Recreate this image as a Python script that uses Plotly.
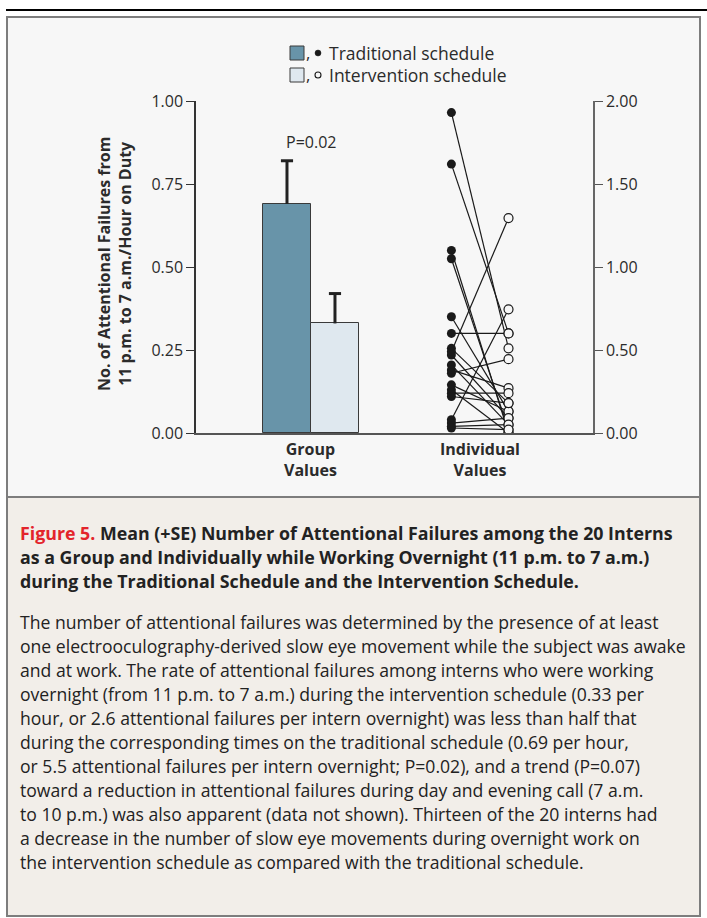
import plotly.graph_objects as go

# ---------------- data ----------------
schedules = ["Traditional schedule", "Intervention schedule"]
group_means = [0.69, 0.33]
group_se = [0.13, 0.09]
bar_colors = ["#6894a9", "#dfe8ef"]

traditional_individual = [1.93, 1.62, 1.10, 1.05, 0.70, 0.60, 0.51, 0.49, 0.47, 0.41,
                          0.38, 0.36, 0.29, 0.26, 0.24, 0.22, 0.08, 0.06, 0.04, 0.03]
intervention_individual = [0.51, 0.60, 0.00, 0.02, 0.13, 0.60, 0.18, 1.295, 0.09, 0.05,
                           0.27, 0.445, 0.13, 0.00, 0.24, 0.18, 0.745, 0.09, 0.05, 0.02]

left_ticks = [0.00, 0.25, 0.50, 0.75, 1.00]
right_ticks = [0.00, 0.50, 1.00, 1.50, 2.00]
x_labels = ["<b>Group<br>Values</b>", "<b>Individual<br>Values</b>"]
p_label = "P=0.02"

# ---------------- layout constants ----------------
W, H = 707, 918
L, R, T, B = 196, 593, 101, 433
GROUP_X, INDIV_X = 1, 2
BAR_W = 0.284
PAIR_OFF = 0.169
XR = [0.3195, 2.669]
CAP = 0.036
FONT = "Open Sans"
TXT = "#2b2b2b"


def px(x):
    return (x - L) / (R - L)


def py(y):
    return (B - y) / (B - T)


fig = go.Figure()

# bars
offsets = [-BAR_W / 2, BAR_W / 2]
ex, ey = [], []
for name, m, se, c, off in zip(schedules, group_means, group_se, bar_colors, offsets):
    xc = GROUP_X + off
    fig.add_trace(go.Bar(
        x=[xc], y=[m], width=[BAR_W], name=name,
        marker=dict(color=c, line=dict(color="#3a3a3a", width=1)),
        showlegend=False, hoverinfo="skip"))
    ex += [xc, xc, None, xc - CAP, xc + CAP, None]
    ey += [m, m + se, None, m + se, m + se, None]

# upper error bars (+SE)
fig.add_trace(go.Scatter(x=ex, y=ey, mode="lines", line=dict(color="#222222", width=3),
                         showlegend=False, hoverinfo="skip"))

# individual lines
lx, ly = [], []
for a, b in zip(traditional_individual, intervention_individual):
    lx += [INDIV_X - PAIR_OFF, INDIV_X + PAIR_OFF, None]
    ly += [a, b, None]
fig.add_trace(go.Scatter(x=lx, y=ly, mode="lines", yaxis="y2",
                         line=dict(color="#1a1a1a", width=1.2),
                         showlegend=False, hoverinfo="skip"))
fig.add_trace(go.Scatter(x=[INDIV_X - PAIR_OFF] * len(traditional_individual),
                         y=traditional_individual, mode="markers", yaxis="y2",
                         marker=dict(color="#1a1a1a", size=9, line=dict(width=0)),
                         showlegend=False, hoverinfo="skip"))
fig.add_trace(go.Scatter(x=[INDIV_X + PAIR_OFF] * len(intervention_individual),
                         y=intervention_individual, mode="markers", yaxis="y2",
                         marker=dict(color="#f7f7f7", size=9,
                                     line=dict(color="#1a1a1a", width=1.2)),
                         showlegend=False, hoverinfo="skip"))

shapes = [
    dict(type="line", xref="paper", yref="paper", x0=px(6), x1=px(707), y0=py(10), y1=py(10),
         line=dict(color="#000000", width=2)),
    dict(type="rect", xref="paper", yref="paper", x0=px(7), x1=px(700), y0=py(17), y1=py(497),
         fillcolor="#f7f7f7", line=dict(color="#7d7d7d", width=2), layer="below"),
    dict(type="rect", xref="paper", yref="paper", x0=px(7), x1=px(700), y0=py(497), y1=py(916),
         fillcolor="#f2eee9", line=dict(color="#7d7d7d", width=2), layer="below"),
    # legend swatches
    dict(type="rect", xref="paper", yref="paper", x0=px(290), x1=px(304), y0=py(46), y1=py(60),
         fillcolor=bar_colors[0], line=dict(color="#3a3a3a", width=1)),
    dict(type="rect", xref="paper", yref="paper", x0=px(290), x1=px(304), y0=py(68), y1=py(82),
         fillcolor=bar_colors[1], line=dict(color="#3a3a3a", width=1)),
    # legend dots (filled / open)
    dict(type="circle", xref="paper", yref="paper", x0=px(315), x1=px(321), y0=py(50), y1=py(56),
         fillcolor="#1a1a1a", line=dict(color="#1a1a1a", width=0.5)),
    dict(type="circle", xref="paper", yref="paper", x0=px(315), x1=px(321), y0=py(72), y1=py(78),
         fillcolor="#f7f7f7", line=dict(color="#1a1a1a", width=1.1)),
]

ann = []
for txt, yy in [(schedules[0], 53), (schedules[1], 75)]:
    ann.append(dict(xref="paper", yref="paper", x=px(304), y=py(yy), xanchor="left",
                    yanchor="middle", text=",", showarrow=False,
                    font=dict(family=FONT, size=17, color=TXT)))
    ann.append(dict(xref="paper", yref="paper", x=px(327), y=py(yy), xanchor="left",
                    yanchor="middle", text=txt, showarrow=False,
                    font=dict(family=FONT, size=17.5, color=TXT)))
ann.append(dict(xref="x", yref="paper", x=GROUP_X, y=py(142), xanchor="center", yanchor="middle",
                text=p_label, showarrow=False, font=dict(family=FONT, size=16, color=TXT)))
ann.append(dict(xref="paper", yref="paper", x=px(114), y=py(264), xanchor="center", yanchor="middle",
                text="<b>No. of Attentional Failures from<br>11 p.m. to 7 a.m./Hour on Duty</b>",
                textangle=-90, showarrow=False, font=dict(family=FONT, size=16, color=TXT)))
for xv, lab in zip([GROUP_X, INDIV_X], x_labels):
    ann.append(dict(xref="x", yref="paper", x=xv, y=py(460), xanchor="center", yanchor="middle",
                    text=lab, showarrow=False, font=dict(family=FONT, size=16, color=TXT)))

title_lines = [
    "<span style='color:#e3242b'>Figure 5.</span> Mean (+SE) Number of Attentional Failures among the 20 Interns",
    "as a Group and Individually while Working Overnight (11 p.m. to 7 a.m.)",
    "during the Traditional Schedule and the Intervention Schedule.",
]
body_lines = [
    "The number of attentional failures was determined by the presence of at least",
    "one electrooculography-derived slow eye movement while the subject was awake",
    "and at work. The rate of attentional failures among interns who were working",
    "overnight (from 11 p.m. to 7 a.m.) during the intervention schedule (0.33 per",
    "hour, or 2.6 attentional failures per intern overnight) was less than half that",
    "during the corresponding times on the traditional schedule (0.69 per hour,",
    "or 5.5 attentional failures per intern overnight; P=0.02), and a trend (P=0.07)",
    "toward a reduction in attentional failures during day and evening call (7 a.m.",
    "to 10 p.m.) was also apparent (data not shown). Thirteen of the 20 interns had",
    "a decrease in the number of slow eye movements during overnight work on",
    "the intervention schedule as compared with the traditional schedule.",
]
for i, t in enumerate(title_lines):
    ann.append(dict(xref="paper", yref="paper", x=px(18), y=py(533 + 24 * i), xanchor="left",
                    yanchor="middle", text="<b>" + t + "</b>", showarrow=False,
                    font=dict(family=FONT, size=17.8, color="#222222")))
for i, t in enumerate(body_lines):
    ann.append(dict(xref="paper", yref="paper", x=px(18), y=py(622 + 24 * i), xanchor="left",
                    yanchor="middle", text=t, showarrow=False,
                    font=dict(family=FONT, size=17.6, color="#222222")))

fig.update_layout(
    width=W, height=H,
    margin=dict(l=L, r=W - R, t=T, b=H - B, pad=0),
    paper_bgcolor="#ffffff", plot_bgcolor="rgba(0,0,0,0)",
    barmode="overlay", bargap=0,
    font=dict(family=FONT, size=16, color=TXT),
    xaxis=dict(range=XR, showline=True, linecolor="#555555", linewidth=1.5,
               showticklabels=False, ticks="", showgrid=False, zeroline=False, fixedrange=True),
    yaxis=dict(range=[0, 1], tickvals=left_ticks, tickformat=".2f", ticks="outside",
               ticklen=8, tickwidth=1.3, tickcolor="#333333", showline=True,
               linecolor="#333333", linewidth=1.5, showgrid=False, zeroline=False,
               tickfont=dict(family=FONT, size=16, color=TXT)),
    yaxis2=dict(range=[0, 2], overlaying="y", side="right", tickvals=right_ticks,
                tickformat=".2f", ticks="outside", ticklen=8, tickwidth=1.3,
                tickcolor="#555555", showline=True, linecolor="#666666", linewidth=1.5,
                showgrid=False, zeroline=False, tickfont=dict(family=FONT, size=16, color=TXT)),
    shapes=shapes, annotations=ann, showlegend=False,
)

fig.write_html("out.html", config={"displayModeBar": False},
               post_script="document.body.style.margin='0';")
